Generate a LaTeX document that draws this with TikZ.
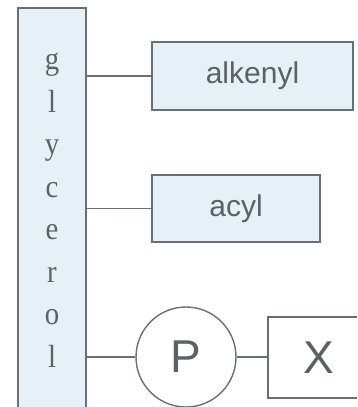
\documentclass[tikz,border=0pt]{standalone}
\usepackage{fontspec}
\setmainfont{Liberation Serif}
\newfontfamily\arialf{Liberation Sans}
\definecolor{edgec}{HTML}{66707A}
\definecolor{fillc}{HTML}{E6F0F6}
\definecolor{textc}{HTML}{5A6268}
\begin{document}
\begin{tikzpicture}[x=1pt,y=-1pt,
  boxc/.style={draw=edgec,line width=1.4pt,fill=fillc,inner sep=0pt,text=textc},
  whitebox/.style={draw=edgec,line width=1.4pt,fill=white,inner sep=0pt,text=textc},
  letter/.style={anchor=base,text=textc,font=\fontsize{32}{32}\selectfont,inner sep=0pt,xscale=0.9},
  conn/.style={draw=edgec,line width=1.4pt}]
\useasboundingbox (0,0) rectangle (357,407);
\clip (0,0) rectangle (357,407);
\node[boxc,minimum width=68pt,minimum height=404pt] (gly) at (52,210) {};
\foreach \c [count=\i] in {g,l,y,c,e,r,o,l}
  \node[letter] (L\i) at (52,{69.5+42.5*(\i-1)}) {\c};
\node[boxc,minimum width=201pt,minimum height=68pt,font=\arialf\fontsize{30}{30}\selectfont] (alk) at (252.5,76) {alkenyl};
\node[boxc,minimum width=168pt,minimum height=67pt,font=\arialf\fontsize{30}{30}\selectfont] (acyl) at (236,208.5) {acyl};
\node[whitebox,circle,minimum size=100pt,font=\arialf\fontsize{46}{46}\selectfont] (P) at (186,357) {P};
\node[whitebox,minimum width=102pt,minimum height=81pt,font=\arialf\fontsize{46}{46}\selectfont] (X) at (319,357.5) {X};
\draw[conn] (alk.west -| gly.east) -- (alk.west);
\draw[conn] (acyl.west -| gly.east) -- (acyl.west);
\draw[conn] (P.west -| gly.east) -- (P.west);
\draw[conn] (P.east) -- (X.west |- P.east);
\end{tikzpicture}
\end{document}
